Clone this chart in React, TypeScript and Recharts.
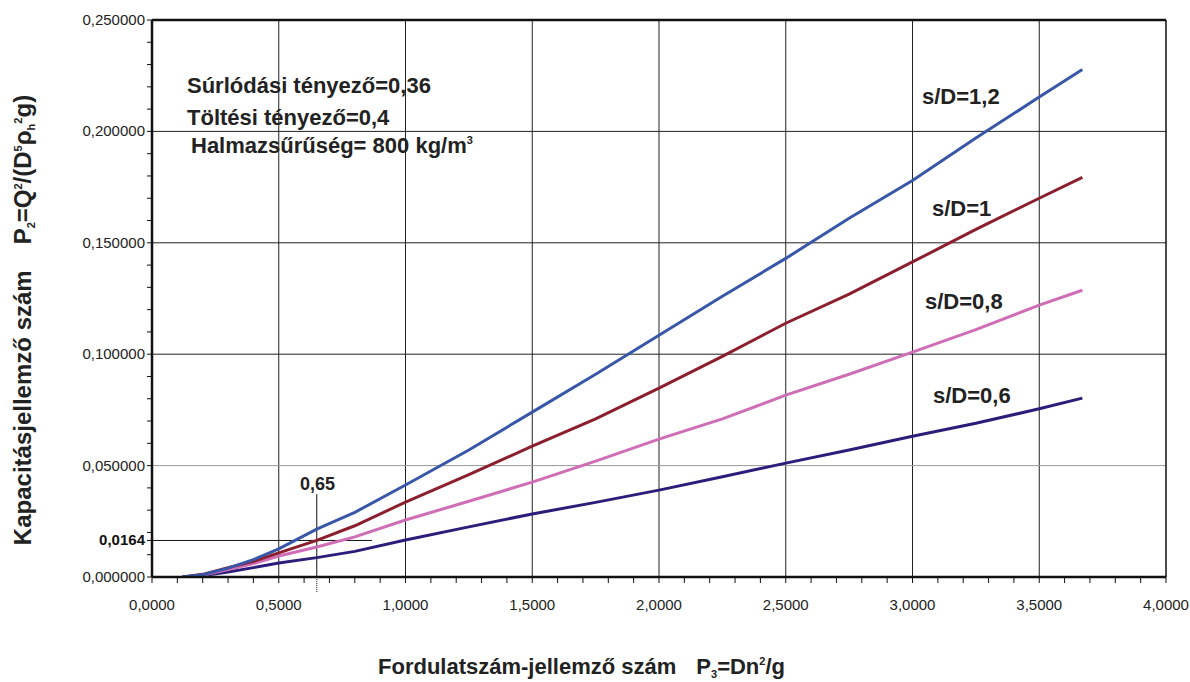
import React from 'react';
import { LineChart, Line, XAxis, YAxis, ReferenceLine } from 'recharts';

// P3 values along the curves
const xValues = [0.12, 0.2, 0.3, 0.4, 0.5, 0.65, 0.8, 1.0, 1.25, 1.5, 1.75, 2.0, 2.25, 2.5, 2.75, 3.0, 3.25, 3.5, 3.67];

const sd12 = [0, 0.001, 0.004, 0.0078, 0.0126, 0.0215, 0.029, 0.0413, 0.057, 0.074, 0.091, 0.1085, 0.126, 0.143, 0.161, 0.178, 0.197, 0.2154, 0.2278];
const sd10 = [0, 0.0012, 0.0042, 0.007, 0.0108, 0.0164, 0.023, 0.0336, 0.046, 0.0587, 0.071, 0.0848, 0.099, 0.1139, 0.127, 0.1414, 0.156, 0.17, 0.1794];
const sd08 = [0, 0.0008, 0.0033, 0.006, 0.0094, 0.0135, 0.018, 0.0256, 0.034, 0.0426, 0.052, 0.0619, 0.071, 0.0816, 0.091, 0.1009, 0.111, 0.122, 0.1287];
const sd06 = [0, 0.0006, 0.0022, 0.0042, 0.0063, 0.0087, 0.0115, 0.0166, 0.0225, 0.0283, 0.0335, 0.039, 0.045, 0.0511, 0.057, 0.0632, 0.069, 0.0755, 0.0803];

const data = xValues.map((x, i) => ({ x, sd12: sd12[i], sd10: sd10[i], sd08: sd08[i], sd06: sd06[i] }));

const xMajor = [0, 0.5, 1, 1.5, 2, 2.5, 3, 3.5, 4];
const xMinor = Array.from({ length: 41 }, (_, i) => i / 10);
const yMajor = [0, 0.05, 0.1, 0.15, 0.2, 0.25];
const yMinor = [...Array.from({ length: 26 }, (_, i) => i / 100), 0.0164];
const gridX = [0.5, 1, 1.5, 2, 2.5, 3, 3.5];
const gridY = [0.1, 0.15, 0.2];

const FONT = '"Liberation Sans", Arial, sans-serif';
const isIn = (arr: number[], v: number) => arr.some((m) => Math.abs(m - v) < 1e-6);

const XTick = (props: any) => {
  const { x, y, payload } = props;
  if (!isIn(xMajor, payload.value)) return null;
  return (
    <text x={x} y={y} dy={25} textAnchor="middle" fontFamily={FONT} fontSize={15} fill="#222">
      {payload.value.toFixed(4).replace('.', ',')}
    </text>
  );
};

const YTick = (props: any) => {
  const { x, y, payload } = props;
  const v = payload.value;
  if (Math.abs(v - 0.0164) < 1e-6) {
    return (
      <text x={x} y={y} dy={5} textAnchor="end" fontFamily={FONT} fontSize={15} fontWeight="bold" fill="#111">
        0,0164
      </text>
    );
  }
  if (!isIn(yMajor, v)) return null;
  return (
    <text x={x} y={y} dy={5} textAnchor="end" fontFamily={FONT} fontSize={15} fill="#222">
      {v.toFixed(6).replace('.', ',')}
    </text>
  );
};

const label = (left: number, top: number, size = 22): React.CSSProperties => ({
  position: 'absolute',
  left,
  top,
  fontFamily: FONT,
  fontWeight: 'bold',
  fontSize: size,
  color: '#222',
  whiteSpace: 'nowrap',
  lineHeight: 1,
});

const subSt: React.CSSProperties = { fontSize: 11, verticalAlign: -4 };
const supSt: React.CSSProperties = { fontSize: 11, verticalAlign: 9 };

export default function App() {
  return (
    <div style={{ position: 'absolute', left: 0, top: 0, width: 1190, height: 682, background: '#fff' }}>
      <LineChart width={1190} height={682} data={data} margin={{ top: 20, right: 24, bottom: 75, left: 0 }}>
        <XAxis
          dataKey="x"
          type="number"
          domain={[0, 4]}
          ticks={xMinor}
          interval={0}
          tick={<XTick />}
          tickSize={6}
          height={30}
          axisLine={{ stroke: '#111', strokeWidth: 2.5 }}
          tickLine={{ stroke: '#111' }}
          allowDataOverflow
        />
        <YAxis
          type="number"
          domain={[0, 0.25]}
          ticks={yMinor}
          interval={0}
          tick={<YTick />}
          tickSize={5}
          width={152}
          axisLine={{ stroke: '#111', strokeWidth: 2.5 }}
          tickLine={{ stroke: '#111' }}
          allowDataOverflow
        />
        {gridX.map((v) => (
          <ReferenceLine key={'gx' + v} x={v} stroke="#222" strokeWidth={1} />
        ))}
        {gridY.map((v) => (
          <ReferenceLine key={'gy' + v} y={v} stroke="#222" strokeWidth={1} />
        ))}
        <ReferenceLine y={0.05} stroke="#999" strokeWidth={1} />
        <ReferenceLine y={0.25} stroke="#111" strokeWidth={2.5} />
        <ReferenceLine x={4} stroke="#111" strokeWidth={1.5} />
        <ReferenceLine segment={[{ x: 0, y: 0.0164 }, { x: 0.868, y: 0.0164 }]} stroke="#111" strokeWidth={1} ifOverflow="visible" />
        <ReferenceLine segment={[{ x: 0.65, y: 0 }, { x: 0.65, y: 0.0372 }]} stroke="#111" strokeWidth={1} ifOverflow="visible" />
        <ReferenceLine segment={[{ x: 0.65, y: -0.0067 }, { x: 0.65, y: 0 }]} stroke="#111" strokeWidth={1} strokeDasharray="1 1" ifOverflow="visible" />
        <Line dataKey="sd06" stroke="#2b1d7a" strokeWidth={3} dot={false} isAnimationActive={false} />
        <Line dataKey="sd08" stroke="#cf6db6" strokeWidth={3} dot={false} isAnimationActive={false} />
        <Line dataKey="sd10" stroke="#8c1f2e" strokeWidth={3} dot={false} isAnimationActive={false} />
        <Line dataKey="sd12" stroke="#3857a8" strokeWidth={3} dot={false} isAnimationActive={false} />
      </LineChart>

      <div style={label(187, 75)}>Súrlódási tényező=0,36</div>
      <div style={label(187, 107)}>Töltési tényező=0,4</div>
      <div style={label(191, 135)}>
        Halmazsűrűség= 800 kg/m<span style={supSt}>3</span>
      </div>

      <div style={label(922, 86)}>s/D=1,2</div>
      <div style={label(932, 198)}>s/D=1</div>
      <div style={label(925, 291)}>s/D=0,8</div>
      <div style={label(933, 385)}>s/D=0,6</div>

      <div style={label(300, 475, 18)}>0,65</div>

      <div style={label(378, 656)}>
        Fordulatszám-jellemző szám<span style={{ display: 'inline-block', width: 20 }} />P<span style={subSt}>3</span>=Dn<span style={supSt}>2</span>/g
      </div>

      <div
        style={{
          ...label(24, 320, 24),
          transform: 'translate(-50%, -50%) rotate(-90deg)',
        }}
      >
        Kapacitásjellemző szám<span style={{ display: 'inline-block', width: 26 }} />P<span style={subSt}>2</span>=Q
        <span style={supSt}>2</span>/(D<span style={supSt}>5</span>ρ<span style={subSt}>h</span>
        <span style={supSt}>2</span>g)
      </div>
    </div>
  );
}
